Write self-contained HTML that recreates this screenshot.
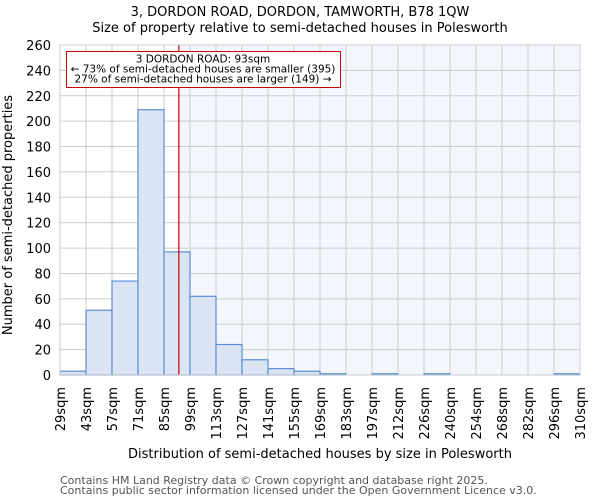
<!DOCTYPE html>
<html><head><meta charset="utf-8"><style>
body{margin:0;background:#fff;font-family:"DejaVu Sans","Liberation Sans",sans-serif}
svg text{font-family:"DejaVu Sans","Liberation Sans",sans-serif}
</style></head><body>
<svg id="chart" width="600" height="500" xmlns="http://www.w3.org/2000/svg">
<text x="300" y="16" font-size="13" text-anchor="middle">3, DORDON ROAD, DORDON, TAMWORTH, B78 1QW</text>
<text x="300" y="32" font-size="13" text-anchor="middle">Size of property relative to semi-detached houses in Polesworth</text>
<g id="plot"></g>
<text transform="translate(12,215) rotate(-90)" font-size="13" text-anchor="middle">Number of semi-detached properties</text>
<text x="320" y="458" font-size="13" text-anchor="middle">Distribution of semi-detached houses by size in Polesworth</text>
<text x="60" y="484" font-size="11" fill="#555">Contains HM Land Registry data © Crown copyright and database right 2025.</text>
<text x="60" y="494" font-size="11" fill="#555">Contains public sector information licensed under the Open Government Licence v3.0.</text>
</svg>
<script>
const binEdges=[29,43,57,71,85,99,113,127,141,155,169,183,197,212,226,240,254,268,282,296,310];
const tickLabels=["29sqm","43sqm","57sqm","71sqm","85sqm","99sqm","113sqm","127sqm","141sqm","155sqm","169sqm","183sqm","197sqm","212sqm","226sqm","240sqm","254sqm","268sqm","282sqm","296sqm","310sqm"];
const counts=[3,51,74,209,97,62,24,12,5,3,1,0,1,0,1,0,0,0,0,1];
const yTicks=[0,20,40,60,80,100,120,140,160,180,200,220,240,260];
const markerValue=93;
const annotationLines=["3 DORDON ROAD: 93sqm","← 73% of semi-detached houses are smaller (395)","27% of semi-detached houses are larger (149) →"];

const NS="http://www.w3.org/2000/svg";
const L=60,R=580,T=45,B=375,YMAX=260;
const nb=counts.length;
function xi(i){return L+(R-L)*i/nb;}
function xv(v){
  for(let i=0;i<binEdges.length-1;i++){if(v<=binEdges[i+1]){return xi(i)+(v-binEdges[i])/(binEdges[i+1]-binEdges[i])*(xi(i+1)-xi(i));}}
  return R;}
function y(v){return B-(B-T)*v/YMAX;}
const g=document.getElementById('plot');
function mk(tag,attrs){const e=document.createElementNS(NS,tag);for(const k in attrs)e.setAttribute(k,attrs[k]);g.appendChild(e);return e;}
const mx=xv(markerValue);
let e;
e=mk('rect',{x:L,y:T,width:R-L,height:B-T,fill:'#fff'});


e=mk('rect',{x:mx,y:T,width:R-mx,height:B-T,fill:'#f3f6fd'});


for(let i=0;i<=nb;i++){
  e=mk('line',{x1:xi(i),x2:xi(i),y1:T,y2:B,stroke:'#cccccc','stroke-width':1});
  
  
}
yTicks.forEach(t=>{
  e=mk('line',{x1:L,x2:R,y1:y(t),y2:y(t),stroke:'#cccccc','stroke-width':1});
  
  
  e=mk('text',{x:L-9,y:y(t)+5,'font-size':13,'text-anchor':'end'});
  e.textContent=t;
  
  
});
counts.forEach((c,i)=>{
  if(c<=0)return;
  e=mk('rect',{x:xi(i),y:y(c),width:xi(i+1)-xi(i),height:B-y(c),fill:'#dae4f3',stroke:'#5a8fd6','stroke-width':1.2});
  
  
});
tickLabels.forEach((t,i)=>{
  e=mk('text',{transform:'translate('+(xi(i)+5)+','+(B+12)+') rotate(-90)','font-size':13,'text-anchor':'end'});
  e.textContent=t;
  
  
});
e=mk('line',{x1:mx,x2:mx,y1:T,y2:B,stroke:'#cc0000','stroke-width':1.2});


e=mk('rect',{x:66.5,y:51.5,width:274,height:36,fill:'#fff',stroke:'#cc0000','stroke-width':1});


annotationLines.forEach((s,i)=>{
  e=mk('text',{x:203,y:62.5+i*10,'font-size':10.5,'text-anchor':'middle'});
  e.textContent=s;
  
  
});
e=mk('rect',{x:L,y:T,width:R-L,height:B-T,fill:'none',stroke:'#cccccc','stroke-width':1});


</script>
</body></html>
